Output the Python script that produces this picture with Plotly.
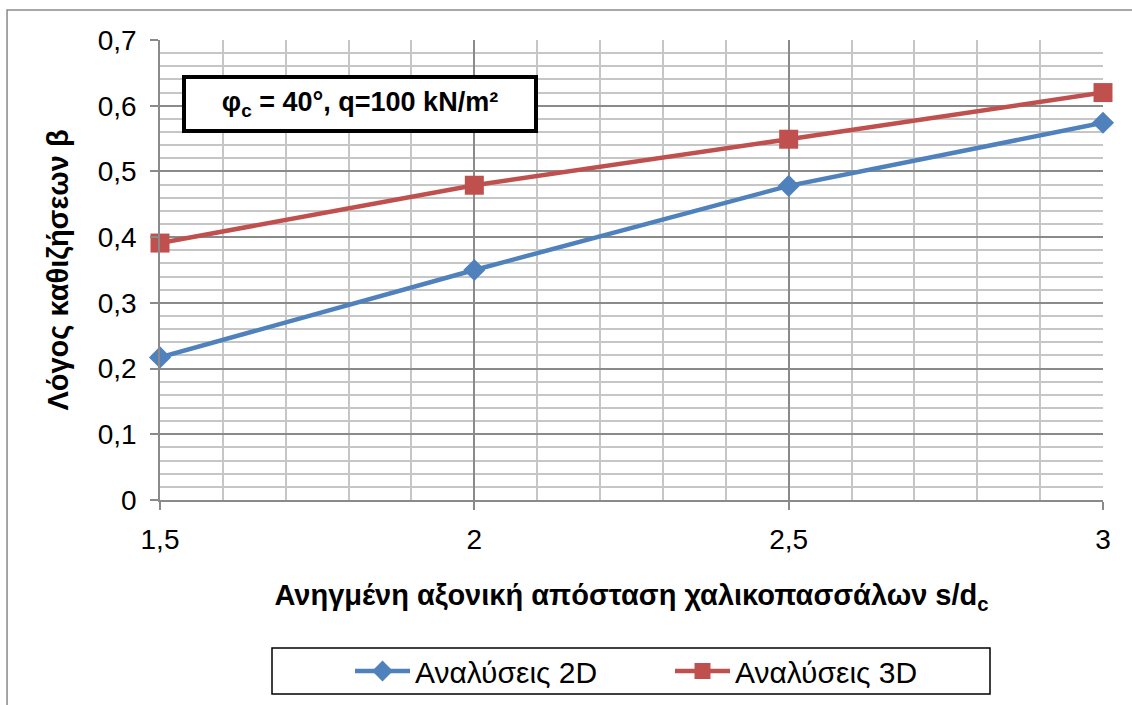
import plotly.graph_objects as go

# Normalised axial spacing of stone columns s/dc
spacing = [1.5, 2.0, 2.5, 3.0]
# Settlement ratio beta from the two analysis types
beta_2d = [0.217, 0.350, 0.478, 0.574]
beta_3d = [0.391, 0.479, 0.549, 0.620]

series_names = ["Αναλύσεις 2D", "Αναλύσεις 3D"]
blue = "#4F81BD"
red = "#C0504D"

FONT = "Liberation Sans, Arial, sans-serif"

fig = go.Figure()
fig.add_trace(go.Scatter(
    x=spacing, y=beta_2d, name=series_names[0], mode="lines+markers",
    line=dict(color=blue, width=4.5),
    marker=dict(symbol="diamond", size=17, color=blue),
    cliponaxis=False,
))
fig.add_trace(go.Scatter(
    x=spacing, y=beta_3d, name=series_names[1], mode="lines+markers",
    line=dict(color=red, width=4.5),
    marker=dict(symbol="square", size=19, color=red),
    cliponaxis=False,
))

major_grid = "#8a8a8a"
minor_grid = "#c6c6c6"

fig.update_xaxes(
    range=[1.5, 3.0], tickvals=[1.5, 2.0, 2.5, 3.0],
    showgrid=True, gridcolor=major_grid, gridwidth=1.5,
    minor=dict(dtick=0.1, showgrid=True, gridcolor=minor_grid, gridwidth=1.5),
    ticks="outside", ticklen=8, tickcolor=major_grid, tickwidth=1.5,
    ticklabelstandoff=6,
    showline=True, linecolor=major_grid, linewidth=1.5,
    zeroline=False,
    tickfont=dict(family=FONT, size=28, color="#000"),
    title=dict(text="<b>Ανηγμένη αξονική απόσταση χαλικοπασσάλων s/d<sub>c</sub></b>",
               font=dict(family=FONT, size=29, color="#000"), standoff=30),
)
fig.update_yaxes(
    range=[0, 0.7], dtick=0.1,
    showgrid=True, gridcolor=major_grid, gridwidth=1.5,
    minor=dict(dtick=0.02, showgrid=True, gridcolor=minor_grid, gridwidth=1.5),
    ticks="outside", ticklen=8, tickcolor=major_grid, tickwidth=1.5,
    ticklabelstandoff=8,
    showline=True, linecolor=major_grid, linewidth=1.5,
    zeroline=False,
    tickfont=dict(family=FONT, size=28, color="#000"),
    title=dict(text="<b>Λόγος καθιζήσεων β</b>",
               font=dict(family=FONT, size=29, color="#000"), standoff=21),
)

# Parameter box inside the plot
fig.add_annotation(
    xref="paper", yref="paper", x=0.2121, y=0.861,
    xanchor="center", yanchor="middle",
    text="<b>φ<sub>c</sub> = 40°, q=100 kN/m²</b>",
    showarrow=False,
    font=dict(family=FONT, size=27, color="#000"),
    bgcolor="white", bordercolor="#000", borderwidth=4, borderpad=4,
    width=340, height=42,
)

# Outer chart frame and legend frame
fig.add_shape(type="rect", xref="paper", yref="paper",
              x0=-0.1622, x1=1.2, y0=-0.6, y1=1.0652,
              line=dict(color="#8a8a8a", width=1.5), layer="below")
fig.add_shape(type="rect", xref="paper", yref="paper",
              x0=(272 - 160) / 943, x1=(990 - 160) / 943,
              y0=(500 - 694) / 460, y1=(500 - 648) / 460,
              line=dict(color="#000", width=1.5))

fig.update_layout(
    width=1132, height=705,
    margin=dict(l=160, r=29, t=40, b=205, autoexpand=False),
    paper_bgcolor="white", plot_bgcolor="white",
    separators=",.",
    showlegend=True,
    legend=dict(
        orientation="h", xref="paper", yref="paper",
        x=(350 - 160) / 943, y=(500 - 671) / 460,
        xanchor="left", yanchor="middle",
        font=dict(family=FONT, size=30, color="#000"),
        bgcolor="rgba(0,0,0,0)", borderwidth=0,
        entrywidth=250, entrywidthmode="pixels",
        itemwidth=55,
    ),
)

fig.write_html("out.html")
